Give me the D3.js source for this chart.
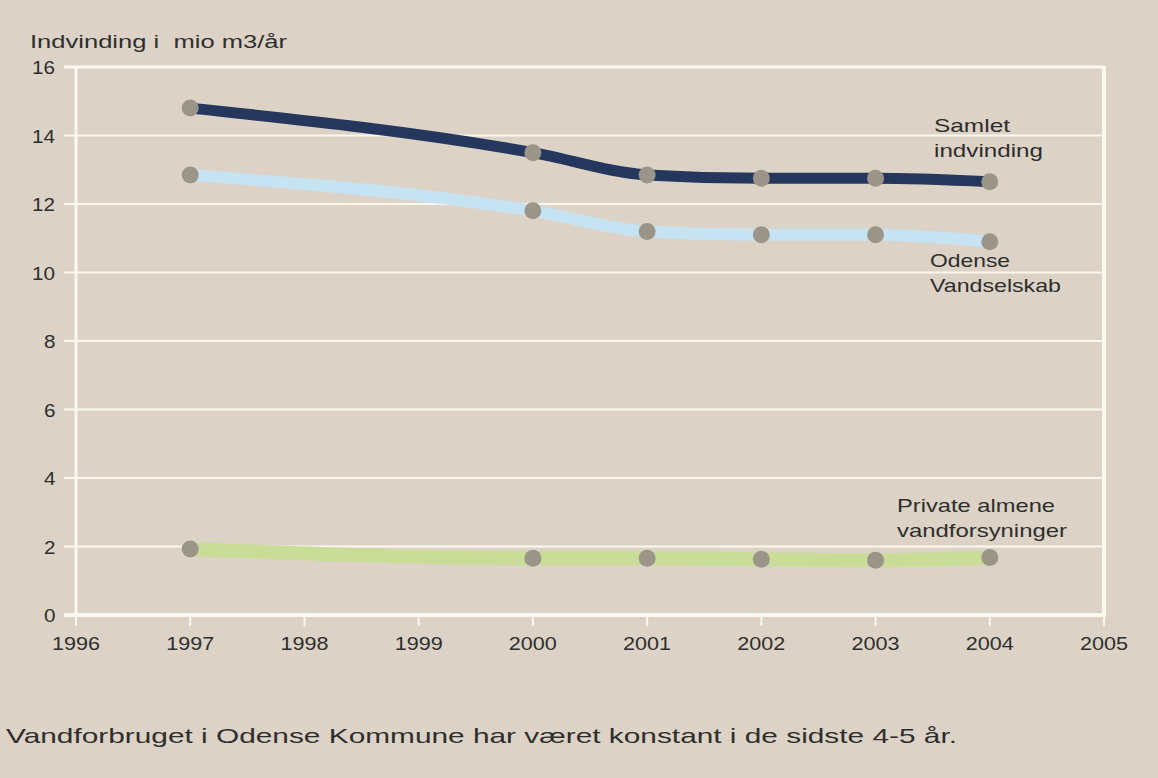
<!DOCTYPE html>
<html>
<head>
<meta charset="utf-8">
<script src="https://d3js.org/d3.v7.min.js"></script>
<style>
    body { margin: 0; background: #dcd3c6; }
    text { font-family: "Liberation Sans", Arial, sans-serif; fill: #2e2e2e; white-space: pre; }
</style>
</head>
<body>
<script>
    var years = [1997, 2000, 2001, 2002, 2003, 2004];
    var samlet = [14.8, 13.5, 12.85, 12.75, 12.75, 12.65];
    var odense = [12.85, 11.8, 11.2, 11.1, 11.1, 10.9];
    var privat = [1.93, 1.66, 1.66, 1.63, 1.6, 1.68];
    var xTicks = [1996, 1997, 1998, 1999, 2000, 2001, 2002, 2003, 2004, 2005];
    var yTicks = [0, 2, 4, 6, 8, 10, 12, 14, 16];

    var w = 1158, h = 778;
    var mLeft = 76, mRight = 1104, mTop = 67, mBottom = 615;
    var gridColor = "#fbf8f0";

    var svg = d3.select("body").append("svg")
        .attr("width", w)
        .attr("height", h);

    var x = d3.scaleLinear().domain([1996, 2005]).range([mLeft, mRight]);
    var y = d3.scaleLinear().domain([0, 16]).range([mBottom, mTop]);

    // grid lines
    svg.selectAll(".grid")
        .data(yTicks)
        .enter()
        .append("line")
        .attr("x1", mLeft - 12)
        .attr("x2", mRight)
        .attr("y1", function (d) { return y(d); })
        .attr("y2", function (d) { return y(d); })
        .attr("stroke", gridColor)
        .attr("stroke-width", function (d) { return d === 0 ? 4 : (d === 16 ? 3 : 2); });

    // frame
    svg.append("line").attr("x1", mLeft).attr("x2", mLeft).attr("y1", mTop).attr("y2", mBottom)
        .attr("stroke", gridColor).attr("stroke-width", 3);
    svg.append("line").attr("x1", mRight).attr("x2", mRight).attr("y1", mTop - 1).attr("y2", mBottom + 2)
        .attr("stroke", gridColor).attr("stroke-width", 4);

    // x ticks
    svg.selectAll(".xtick")
        .data(xTicks)
        .enter()
        .append("line")
        .attr("x1", function (d) { return x(d); })
        .attr("x2", function (d) { return x(d); })
        .attr("y1", mBottom)
        .attr("y2", mBottom + 11)
        .attr("stroke", gridColor)
        .attr("stroke-width", 2);

    svg.selectAll(".xlabel")
        .data(xTicks)
        .enter()
        .append("text")
        .attr("x", function (d) { return x(d) - 24; })
        .attr("y", mBottom + 35)
        .attr("textLength", 48)
        .attr("lengthAdjust", "spacingAndGlyphs")
        .style("font-size", "19px")
        .text(function (d) { return d; });

    svg.selectAll(".ylabel")
        .data(yTicks)
        .enter()
        .append("text")
        .attr("x", function (d) { return d >= 10 ? 32 : 44; })
        .attr("y", function (d) { return y(d) + 7; })
        .attr("textLength", function (d) { return d >= 10 ? 23 : 11.5; })
        .attr("lengthAdjust", "spacingAndGlyphs")
        .style("font-size", "19px")
        .text(function (d) { return d; });

    svg.append("text")
        .attr("x", 30)
        .attr("y", 48)
        .attr("textLength", 257)
        .attr("lengthAdjust", "spacingAndGlyphs")
        .style("font-size", "18px")
        .text("Indvinding i  mio m3/år");

    var line = d3.line()
        .x(function (d, i) { return x(years[i]); })
        .y(function (d) { return y(d); })
        .curve(d3.curveMonotoneX);

    var series = [
        { values: privat, color: "#c9dc98", width: 14 },
        { values: odense, color: "#c6e3f3", width: 12 },
        { values: samlet, color: "#25375c", width: 11 }
    ];

    series.forEach(function (s) {
        svg.append("path")
            .attr("d", line(s.values))
            .attr("fill", "none")
            .attr("stroke", s.color)
            .attr("stroke-width", s.width);
    });

    series.forEach(function (s) {
        svg.selectAll(null)
            .data(s.values)
            .enter()
            .append("circle")
            .attr("cx", function (d, i) { return x(years[i]); })
            .attr("cy", function (d) { return y(d); })
            .attr("r", 8.5)
            .attr("fill", "#9b9488");
    });

    var labels = [
        { text: "Samlet", x: 934, y: 132, len: 76 },
        { text: "indvinding", x: 934, y: 157, len: 109 },
        { text: "Odense", x: 930, y: 267, len: 80 },
        { text: "Vandselskab", x: 930, y: 292, len: 131 },
        { text: "Private almene", x: 897, y: 512, len: 158 },
        { text: "vandforsyninger", x: 897, y: 537, len: 170 }
    ];

    svg.selectAll(".label")
        .data(labels)
        .enter()
        .append("text")
        .attr("x", function (d) { return d.x; })
        .attr("y", function (d) { return d.y; })
        .attr("textLength", function (d) { return d.len; })
        .attr("lengthAdjust", "spacingAndGlyphs")
        .style("font-size", "19px")
        .text(function (d) { return d.text; });

    svg.append("text")
        .attr("x", 6)
        .attr("y", 743)
        .attr("textLength", 951)
        .attr("lengthAdjust", "spacingAndGlyphs")
        .style("font-size", "21px")
        .text("Vandforbruget i Odense Kommune har været konstant i de sidste 4-5 år.");
</script>
</body>
</html>
